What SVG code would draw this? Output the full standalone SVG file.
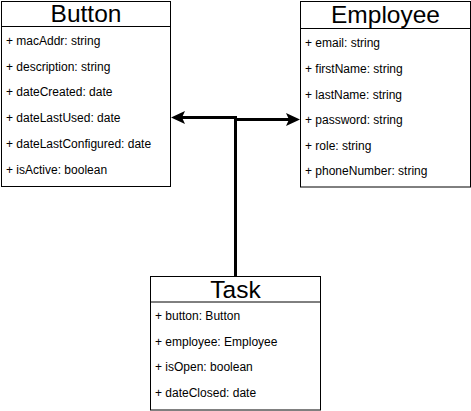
<svg xmlns="http://www.w3.org/2000/svg" width="471" height="411" viewBox="0 0 471 411">
<style>
.box{fill:#fff;stroke:#000;stroke-width:1}
.sep{stroke:#000;stroke-width:1}
.title{font-family:"Liberation Sans",Arial,sans-serif;font-size:24.5px;text-anchor:middle;fill:#000}
.attr{font-family:"Liberation Sans",Arial,sans-serif;font-size:12px;fill:#000}
.edge{fill:none;stroke:#000;stroke-width:3}
.head{fill:#000;stroke:none}
</style>
<rect x="0" y="0" width="471" height="411" fill="#fff"/>
<g id="Button">
<rect class="box" x="1.5" y="1.5" width="169" height="185"/>
<line class="sep" x1="1.5" y1="26.5" x2="170.5" y2="26.5"/>
<text class="title" x="86" y="22">Button</text>
<text class="attr" x="6" y="45">+ macAddr: string</text>
<text class="attr" x="6" y="70.5">+ description: string</text>
<text class="attr" x="6" y="96">+ dateCreated: date</text>
<text class="attr" x="6" y="122">+ dateLastUsed: date</text>
<text class="attr" x="6" y="148">+ dateLastConfigured: date</text>
<text class="attr" x="6" y="174">+ isActive: boolean</text>
</g>
<g id="Employee">
<rect class="box" x="300.5" y="1.5" width="170" height="185.5"/>
<line class="sep" x1="300.5" y1="28.5" x2="470.5" y2="28.5"/>
<text class="title" x="385.5" y="23">Employee</text>
<text class="attr" x="305" y="46.5">+ email: string</text>
<text class="attr" x="305" y="73">+ firstName: string</text>
<text class="attr" x="305" y="98.5">+ lastName: string</text>
<text class="attr" x="305" y="123.5">+ password: string</text>
<text class="attr" x="305" y="150">+ role: string</text>
<text class="attr" x="305" y="174.5">+ phoneNumber: string</text>
</g>
<g id="Task">
<rect class="box" x="150.5" y="276.5" width="170" height="133.5"/>
<line class="sep" x1="150.5" y1="302" x2="320.5" y2="302"/>
<text class="title" x="235.5" y="297.5">Task</text>
<text class="attr" x="155" y="320">+ button: Button</text>
<text class="attr" x="155" y="346">+ employee: Employee</text>
<text class="attr" x="155" y="371">+ isOpen: boolean</text>
<text class="attr" x="155" y="397">+ dateClosed: date</text>
</g>
<g id="connectors">
<path class="edge" d="M235.5 276 V117.5 H182"/>
<path class="head" d="M171 117.5 L185 111 L182 117.5 L185 124 Z"/>
<path class="edge" d="M235.5 276 V119.5 H289"/>
<path class="head" d="M300 119.5 L286 113 L289 119.5 L286 126 Z"/>
</g>
</svg>
